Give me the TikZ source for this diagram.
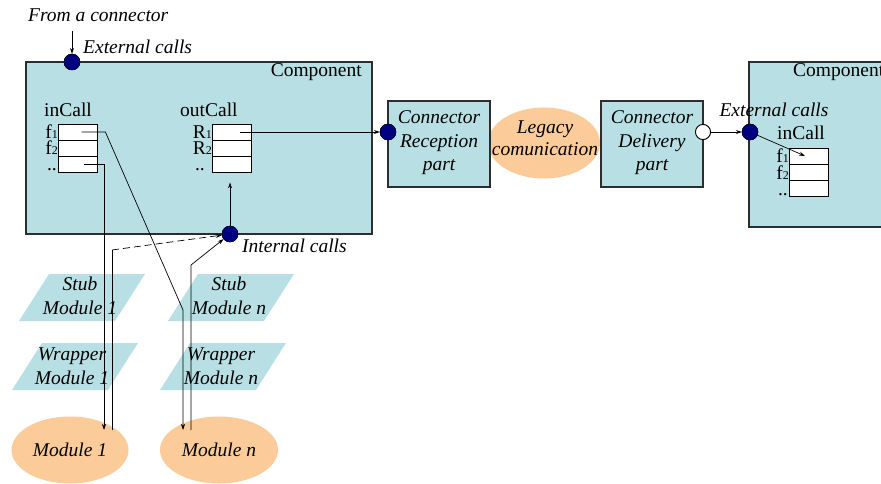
\documentclass[tikz,border=0pt]{standalone}
\usepackage{fontspec}
\setmainfont{Liberation Serif}
\usetikzlibrary{shapes.geometric,arrows.meta}
\definecolor{compfill}{RGB}{184,224,228}
\definecolor{modfill}{RGB}{251,204,153}
\definecolor{dotblue}{RGB}{0,0,128}
\definecolor{boxline}{RGB}{45,45,45}
\newcommand\idx[1]{{\fontsize{12}{12}\selectfont #1}}

\begin{document}
\begin{tikzpicture}[x=1pt,y=-1pt,
	font=\fontsize{19.5}{23}\selectfont,
	>={Stealth[length=6pt,width=4pt]},
	comp/.style={draw=boxline,line width=1.1pt,fill=compfill,inner sep=0pt},
	cell/.style={draw=black,fill=white,line width=.8pt,minimum width=39pt,minimum height=16pt,inner sep=0pt},
	port/.style={circle,fill=dotblue,draw=black,line width=.4pt,minimum size=16pt,inner sep=0pt},
	wport/.style={circle,fill=white,draw=black,line width=.8pt,minimum size=15pt,inner sep=0pt},
	conn/.style={comp,minimum width=102pt,minimum height=86pt},
	module/.style={ellipse,fill=modfill,inner sep=0pt},
	lab/.style={inner sep=0pt,align=center},
	it/.style={lab,font=\fontsize{19.5}{23.5}\selectfont\itshape},
	wire/.style={line width=.7pt}]

	\useasboundingbox (0,0) rectangle (881,484);

	% components
	\node[comp,minimum width=346pt,minimum height=172pt] (comp1) at (199,148) {};
	\node[comp,minimum width=146pt,minimum height=165pt] (comp2) at (822,144.5) {};
	\node[lab,anchor=base east] (comp1lab) at (362,77) {Component};
	\node[lab,anchor=base west] (comp2lab) at (793,77) {Component};

	% call tables
	\node[cell] (in1) at (77.5,132) {};
	\node[cell] (in2) at (77.5,148) {};
	\node[cell] (in3) at (77.5,164) {};
	\node[cell] (out1) at (232,132) {};
	\node[cell] (out2) at (232,148) {};
	\node[cell] (out3) at (232,164) {};
	\node[cell] (r1) at (809,156) {};
	\node[cell] (r2) at (809,172) {};
	\node[cell] (r3) at (809,188) {};

	\node[lab,anchor=base west] (incall) at (44,117) {inCall};
	\node[lab,anchor=base west] (outcall) at (180,117) {outCall};
	\node[lab,anchor=base west] (rincall) at (777,140) {inCall};
	\node[lab,anchor=base east] (f1) at (58,139) {f\idx{1}};
	\node[lab,anchor=base east] (f2) at (58,155) {f\idx{2}};
	\node[lab,anchor=base east] (fdots) at (57,171) {..};
	\node[lab,anchor=base east] (rr1) at (212,139) {R\idx{1}};
	\node[lab,anchor=base east] (rr2) at (212,155) {R\idx{2}};
	\node[lab,anchor=base east] (rdots) at (205,171) {..};
	\node[lab,anchor=base east] (g1) at (789,163) {f\idx{1}};
	\node[lab,anchor=base east] (g2) at (789,179) {f\idx{2}};
	\node[lab,anchor=base east] (gdots) at (788,195) {..};

	% connector parts
	\node[module,minimum width=112pt,minimum height=71pt] (leg) at (544,143) {};
	\node[conn] (rec) at (439,144) {};
	\node[conn] (del) at (652,144) {};
	\node[it] (rectxt) at (439,143) {Connector\\Reception\\part};
	\node[it] (deltxt) at (652,143) {Connector\\Delivery\\part};
	\node[it,font=\fontsize{19.5}{22}\selectfont\itshape] (legtxt) at (545,138) {Legacy\\comunication};

	% stubs and wrappers
	\foreach \x/\y in {19/321,168/321,12/390,160/390}
		\fill[compfill] (\x,\y) -- ++(96,0) -- ++(30,-47) -- ++(-96,0) -- cycle;
	\node[it] (stub1) at (80,296) {Stub\\Module 1};
	\node[it] (stubn) at (229,296) {Stub\\Module n};
	\node[it] (wrap1) at (72,366) {Wrapper\\Module 1};
	\node[it] (wrapn) at (221,366) {Wrapper\\Module n};

	% modules
	\node[module,minimum width=117pt,minimum height=67pt,font=\fontsize{19.5}{22}\selectfont\itshape] (mod1) at (70,450) {Module 1};
	\node[module,minimum width=118pt,minimum height=67pt,font=\fontsize{19.5}{22}\selectfont\itshape] (modn) at (219,450) {Module n};

	% texts
	\node[it,anchor=base west] (from) at (28,22) {From a connector};
	\node[it,anchor=base west] (extlab) at (83,54) {External calls};
	\node[it,anchor=base west] (intlab) at (242,252) {Internal calls};
	\node[it,anchor=base] (ext2lab) at (774,117) {External calls};

	% ports
	\node[port] (ext) at (72,62) {};
	\node[port] (int) at (230,234) {};
	\node[port] (recdot) at (388,132) {};
	\node[wport] (deldot) at (703,132) {};
	\node[port] (ext2) at (750,132) {};

	% wire bends
	\coordinate (f1bend) at (183,310);
	\coordinate (m1in) at (104,430);
	\coordinate (m1out) at (112,430);
	\coordinate (m1up) at (112,250);
	\coordinate (mnin) at (183,430);
	\coordinate (mnout) at (191,430);
	\coordinate (mnup) at (191,265);

	\draw[wire,->] ([yshift=-9pt]ext |- from.south) -- (ext);
	\draw[wire,->] ([xshift=8pt]out1.center) -- (recdot);
	\draw[line width=1pt,->] (int.center) -- ([yshift=-10pt]int |- out3.south);
	\draw[wire,->] ([xshift=4pt]in1.center) -- ([xshift=8pt]in1.east) -- (f1bend) -- (mnin);
	\draw[wire,->] ([xshift=6pt]in3.center) -- (in3.center -| m1in) -- (m1in);
	\draw[wire] (m1out) -- (m1up);
	\draw[wire,dash pattern=on 7pt off 4pt,->] (m1up) -- (int);
	\draw[wire,->] (mnout) -- (mnup) -- (int);
	\draw[wire,->] (deldot) -- (ext2);
	\draw[wire,->] (ext2) -- ([xshift=-4pt]r1.center);

	% redraw ports on top
	\node[port] at (ext) {};
	\node[port] at (int) {};
	\node[port] at (recdot) {};
	\node[wport] at (deldot) {};
	\node[port] at (ext2) {};
\end{tikzpicture}
\end{document}
